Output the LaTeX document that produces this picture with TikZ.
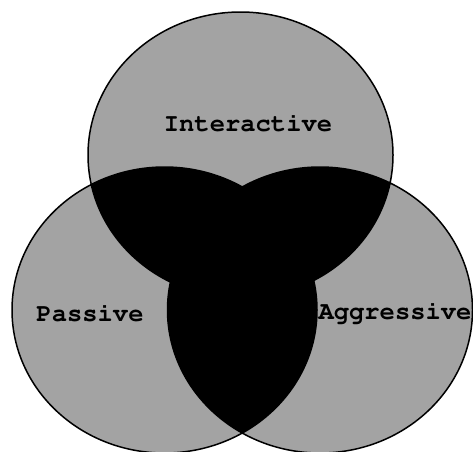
\documentclass[tikz,border=0pt]{standalone}
\usepackage{tikz}
\newcommand{\setfont}{\fontencoding{T1}\fontfamily{pcr}\fontseries{b}\fontsize{25.5}{30}\selectfont}

\begin{document}
\begin{tikzpicture}[x=1pt,y=-1pt,
  setfill/.style={fill=black!36},
  setline/.style={line width=1.5pt},
  setlabel/.style={font=\setfont,inner sep=0pt}]
\useasboundingbox (0,0) rectangle (473,451);
\coordinate (inter) at (240.5,155);
\coordinate (pass) at (164.5,310);
\coordinate (aggr) at (320,310);
% grey sets
\path[setfill] (inter) ellipse (152.5pt and 143pt)
(pass) ellipse (152.5pt and 143pt)
(aggr) ellipse (152.5pt and 143pt);
% overlaps
\begin{scope}
\clip (inter) ellipse (152.5pt and 143pt);
\fill (pass) ellipse (152.5pt and 143pt)
(aggr) ellipse (152.5pt and 143pt);
\end{scope}
\begin{scope}
\clip (pass) ellipse (152.5pt and 143pt);
\fill (aggr) ellipse (152.5pt and 143pt);
\end{scope}
\draw[setline] (inter) ellipse (152.5pt and 143pt)
(pass) ellipse (152.5pt and 143pt)
(aggr) ellipse (152.5pt and 143pt);
\node[setlabel] (interlbl) at (248,123) {Interactive};
\node[setlabel] (passlbl) at (90,313) {Passive};
\node[setlabel] (aggrlbl) at (395,313) {Aggressive};
\end{tikzpicture}
\end{document}
